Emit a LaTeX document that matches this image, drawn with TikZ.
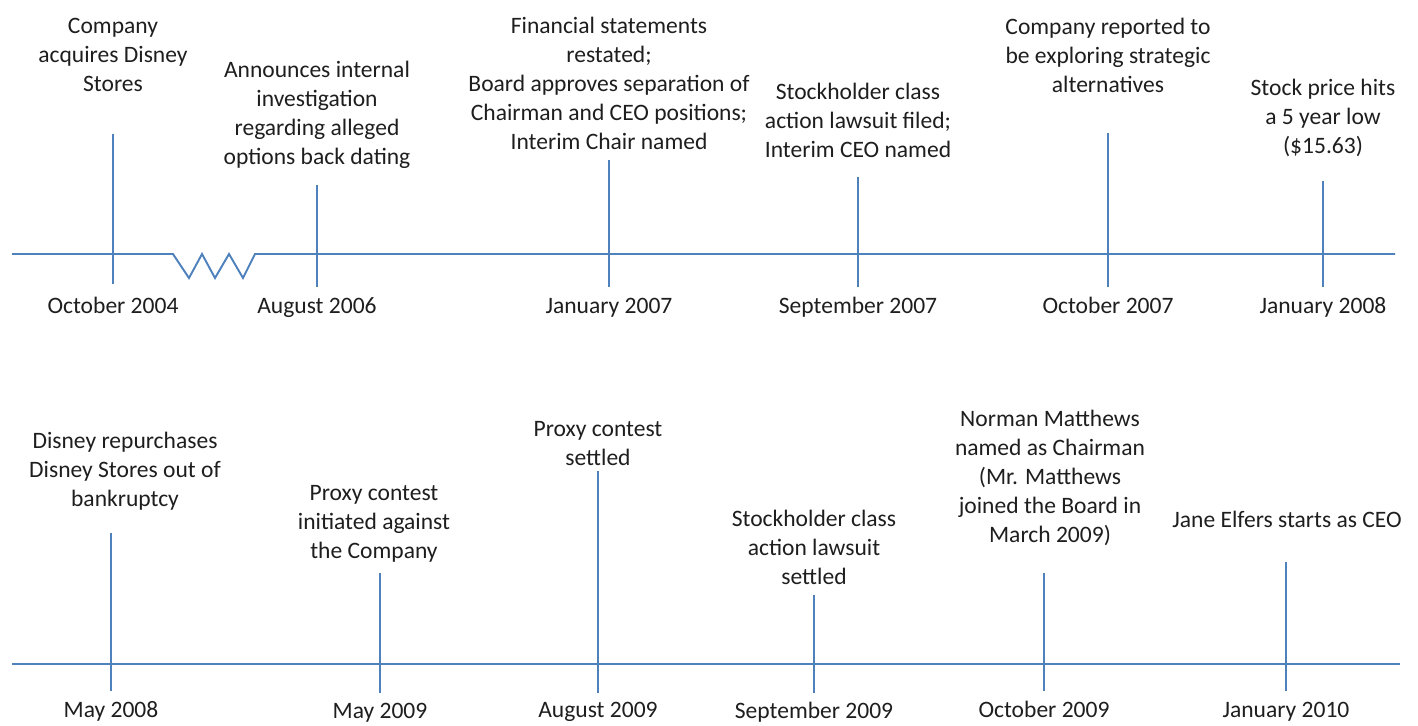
\documentclass[tikz,border=0pt]{standalone}
\usepackage{fontspec}
\setmainfont{Carlito}
\usetikzlibrary{positioning}
\definecolor{tlblue}{RGB}{79,129,189}
\definecolor{tltext}{RGB}{30,30,30}
\begin{document}
\begin{tikzpicture}[
      x=0.02cm, y=-0.02cm,
      axis/.style={
        draw=tlblue,
        line width=1.1pt,
      },
      tick/.style={
        draw=tlblue,
        line width=1.1pt,
      },
      event/.style={
        align=center,
        text=tltext,
        font=\fontsize{13.4}{16.5}\selectfont,
        inner sep=0pt,
      },
      date/.style={
        anchor=base,
        text=tltext,
        font=\fontsize{13.4}{16.5}\selectfont,
        inner sep=0pt,
      },
    ]
    \useasboundingbox (0,0) rectangle (1418,725);
    % first row
    \coordinate (axis1-start) at (12,254);
    \coordinate (axis1-end) at (1395,254);
    \coordinate (oct04-top) at (113,134);
    \coordinate (oct04-bot) at (113,284);
    \coordinate (aug06-top) at (317,185);
    \coordinate (aug06-bot) at (317,287);
    \coordinate (jan07-top) at (609,160);
    \coordinate (jan07-bot) at (609,287);
    \coordinate (sep07-top) at (858,177);
    \coordinate (sep07-bot) at (858,287);
    \coordinate (oct07-top) at (1108,133);
    \coordinate (oct07-bot) at (1108,287);
    \coordinate (jan08-top) at (1323,181);
    \coordinate (jan08-bot) at (1323,287);
    \draw[axis] (axis1-start) -- (173,254) -- (189,278) -- (202,254) -- (215,278)
      -- (229,254) -- (243,278) -- (255,254) -- (axis1-end);
    \draw[tick] (oct04-top) -- (oct04-bot);
    \draw[tick] (aug06-top) -- (aug06-bot);
    \draw[tick] (jan07-top) -- (jan07-bot);
    \draw[tick] (sep07-top) -- (sep07-bot);
    \draw[tick] (oct07-top) -- (oct07-bot);
    \draw[tick] (jan08-top) -- (jan08-bot);
    \node[event] (oct04-text) at (113,55) {Company\\acquires Disney\\Stores};
    \node[event] (aug06-text) at (317,115) {Announces internal\\investigation\\regarding alleged\\options back dating};
    \node[event] (jan07-text) at (609,83) {Financial statements\\restated;\\Board approves separation of\\Chairman and CEO positions;\\Interim Chair named};
    \node[event] (sep07-text) at (858,120) {Stockholder class\\action lawsuit filed;\\Interim CEO named};
    \node[event] (oct07-text) at (1108,55) {Company reported to\\be exploring strategic\\alternatives};
    \node[event] (jan08-text) at (1323,118) {Stock price hits\\a 5 year low\\(\$15.63)};
    \node[date] (oct04-date) at (113,313) {October 2004};
    \node[date] (aug06-date) at (317,313) {August 2006};
    \node[date] (jan07-date) at (609,313) {January 2007};
    \node[date] (sep07-date) at (858,313) {September 2007};
    \node[date] (oct07-date) at (1108,313) {October 2007};
    \node[date] (jan08-date) at (1323,313) {January 2008};
    % second row
    \coordinate (axis2-start) at (12,664);
    \coordinate (axis2-end) at (1400,664);
    \coordinate (may08-top) at (111,533);
    \coordinate (may08-bot) at (111,691);
    \coordinate (may09-top) at (380,573);
    \coordinate (may09-bot) at (380,693);
    \coordinate (aug09-top) at (598,471);
    \coordinate (aug09-bot) at (598,693);
    \coordinate (sep09-top) at (814,595);
    \coordinate (sep09-bot) at (814,693);
    \coordinate (oct09-top) at (1044,573);
    \coordinate (oct09-bot) at (1044,691);
    \coordinate (jan10-top) at (1286,562);
    \coordinate (jan10-bot) at (1286,691);
    \draw[axis] (axis2-start) -- (axis2-end);
    \draw[tick] (may08-top) -- (may08-bot);
    \draw[tick] (may09-top) -- (may09-bot);
    \draw[tick] (aug09-top) -- (aug09-bot);
    \draw[tick] (sep09-top) -- (sep09-bot);
    \draw[tick] (oct09-top) -- (oct09-bot);
    \draw[tick] (jan10-top) -- (jan10-bot);
    \node[event] (may08-text) at (125,471) {Disney repurchases\\Disney Stores out of\\bankruptcy};
    \node[event] (may09-text) at (374,524) {Proxy contest\\initiated against\\the Company};
    \node[event] (aug09-text) at (598,444) {Proxy contest\\settled};
    \node[event] (sep09-text) at (814,547) {Stockholder class\\action lawsuit\\settled};
    \node[event] (oct09-text) at (1050,478) {Norman Matthews\\named as Chairman\\(Mr. Matthews\\joined the Board in\\March 2009)};
    \node[event] (jan10-text) at (1287,519) {Jane Elfers starts as CEO};
    \node[date] (may08-date) at (111,717) {May 2008};
    \node[date] (may09-date) at (380,718) {May 2009};
    \node[date] (aug09-date) at (598,717) {August 2009};
    \node[date] (sep09-date) at (814,718) {September 2009};
    \node[date] (oct09-date) at (1044,717) {October 2009};
    \node[date] (jan10-date) at (1286,717) {January 2010};
\end{tikzpicture}
\end{document}
